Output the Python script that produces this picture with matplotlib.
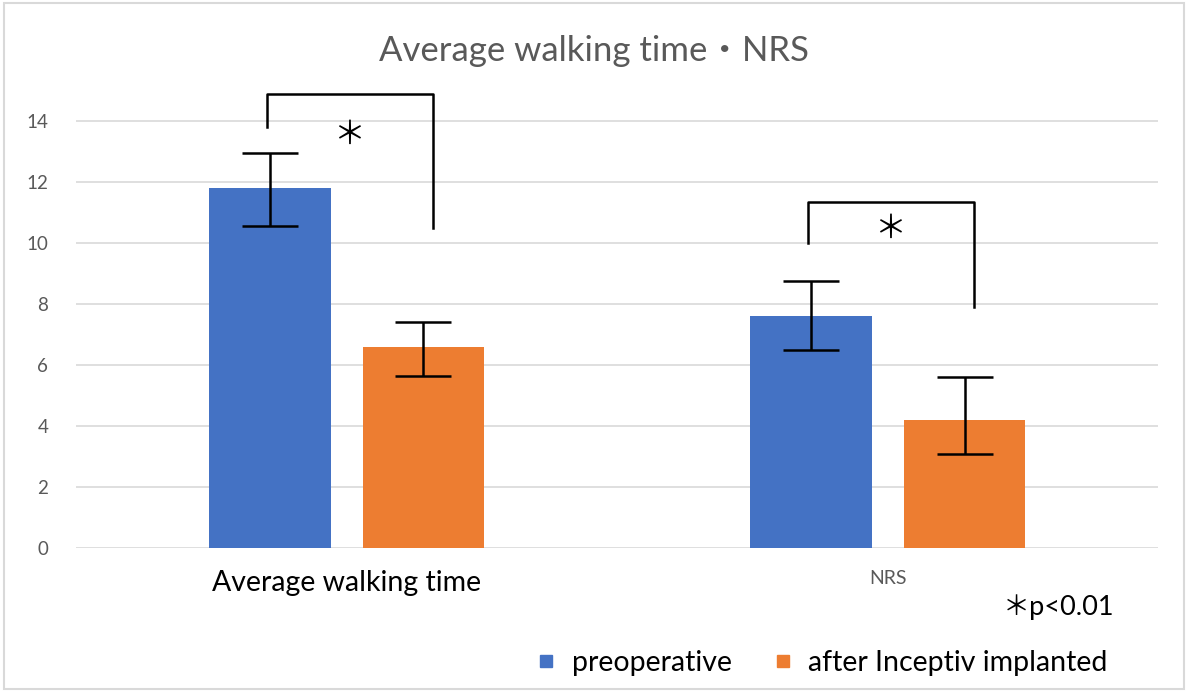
import matplotlib.pyplot as plt
from matplotlib.lines import Line2D
import numpy as np

plt.rcParams['font.family'] = ['Lato', 'Noto Sans CJK JP', 'DejaVu Sans']

# data
categories = ['Average walking time', 'NRS']
preoperative = [11.8, 7.6]
after_implant = [6.6, 4.2]
pre_err_low = [10.55, 6.5]
pre_err_high = [12.95, 8.75]
post_err_low = [5.65, 3.1]
post_err_high = [7.4, 5.62]
# significance brackets: (left end, top, right end) heights per category
bracket_left = [13.8, 10.0]
bracket_top = [14.9, 11.35]
bracket_right = [10.5, 7.9]
star_height = [13.55, 10.45]

blue = '#4472C4'
orange = '#ED7D31'
gray = '#595959'

fig = plt.figure(figsize=(11.88, 6.92), dpi=100)
ax = fig.add_axes([0.064, 0.208, 0.911, 0.661])

x = np.arange(len(categories))
off = 0.142
w = 0.225
ax.bar(x - off, preoperative, w, color=blue, zorder=2)
ax.bar(x + off, after_implant, w, color=orange, zorder=2)

pre = np.array(preoperative)
post = np.array(after_implant)
ax.errorbar(x - off, pre, yerr=[pre - np.array(pre_err_low), np.array(pre_err_high) - pre],
            fmt='none', ecolor='black', elinewidth=1.8, capsize=20, capthick=1.8, zorder=3)
ax.errorbar(x + off, post, yerr=[post - np.array(post_err_low), np.array(post_err_high) - post],
            fmt='none', ecolor='black', elinewidth=1.8, capsize=20, capthick=1.8, zorder=3)

for i in range(len(categories)):
    xl = x[i] - 0.148
    xr = x[i] + 0.16
    ax.plot([xl, xl, xr, xr], [bracket_left[i], bracket_top[i], bracket_top[i], bracket_right[i]],
            color='black', lw=1.8, zorder=3, clip_on=False)
    ax.text(x[i] + 0.005, star_height[i], '＊', ha='center', va='center', fontsize=23,
            color='black')

ax.set_xlim(-0.5, 1.5)
ax.set_ylim(0, 15)
ax.set_yticks(np.arange(0, 15, 2))
ax.grid(axis='y', color='#d9d9d9', lw=1.2, zorder=0)
ax.set_axisbelow(True)
for s in ax.spines.values():
    s.set_visible(False)
ax.tick_params(axis='y', length=0, labelsize=13.5, labelcolor=gray, pad=20)
ax.tick_params(axis='x', length=0, pad=16)
ax.set_xticks(x)
ax.set_xticklabels(categories)
labels = ax.get_xticklabels()
labels[0].set_fontsize(20.5)
labels[0].set_color('black')
labels[1].set_fontsize(14)
labels[1].set_color(gray)

fig.text(0.5, 0.927, 'Average walking time・NRS', ha='center', va='center',
         fontsize=25, color=gray)
fig.text(0.891, 0.123, '＊p<0.01', ha='center', va='center', fontsize=19.5, color='black')

handles = [Line2D([], [], marker='s', ls='none', color=blue, markersize=8),
           Line2D([], [], marker='s', ls='none', color=orange, markersize=8)]
fig.legend(handles, ['preoperative', 'after Inceptiv implanted'], loc='center',
           bbox_to_anchor=(0.69, 0.042), ncol=2, frameon=False, fontsize=20.5,
           handlelength=1.0, handletextpad=0.4, columnspacing=1.3)

fig.patches.append(plt.Rectangle((0.003, 0.004), 0.994, 0.992, transform=fig.transFigure,
                                 fill=False, edgecolor='#d9d9d9', lw=1.5))

fig.savefig('out.png', dpi=100)
